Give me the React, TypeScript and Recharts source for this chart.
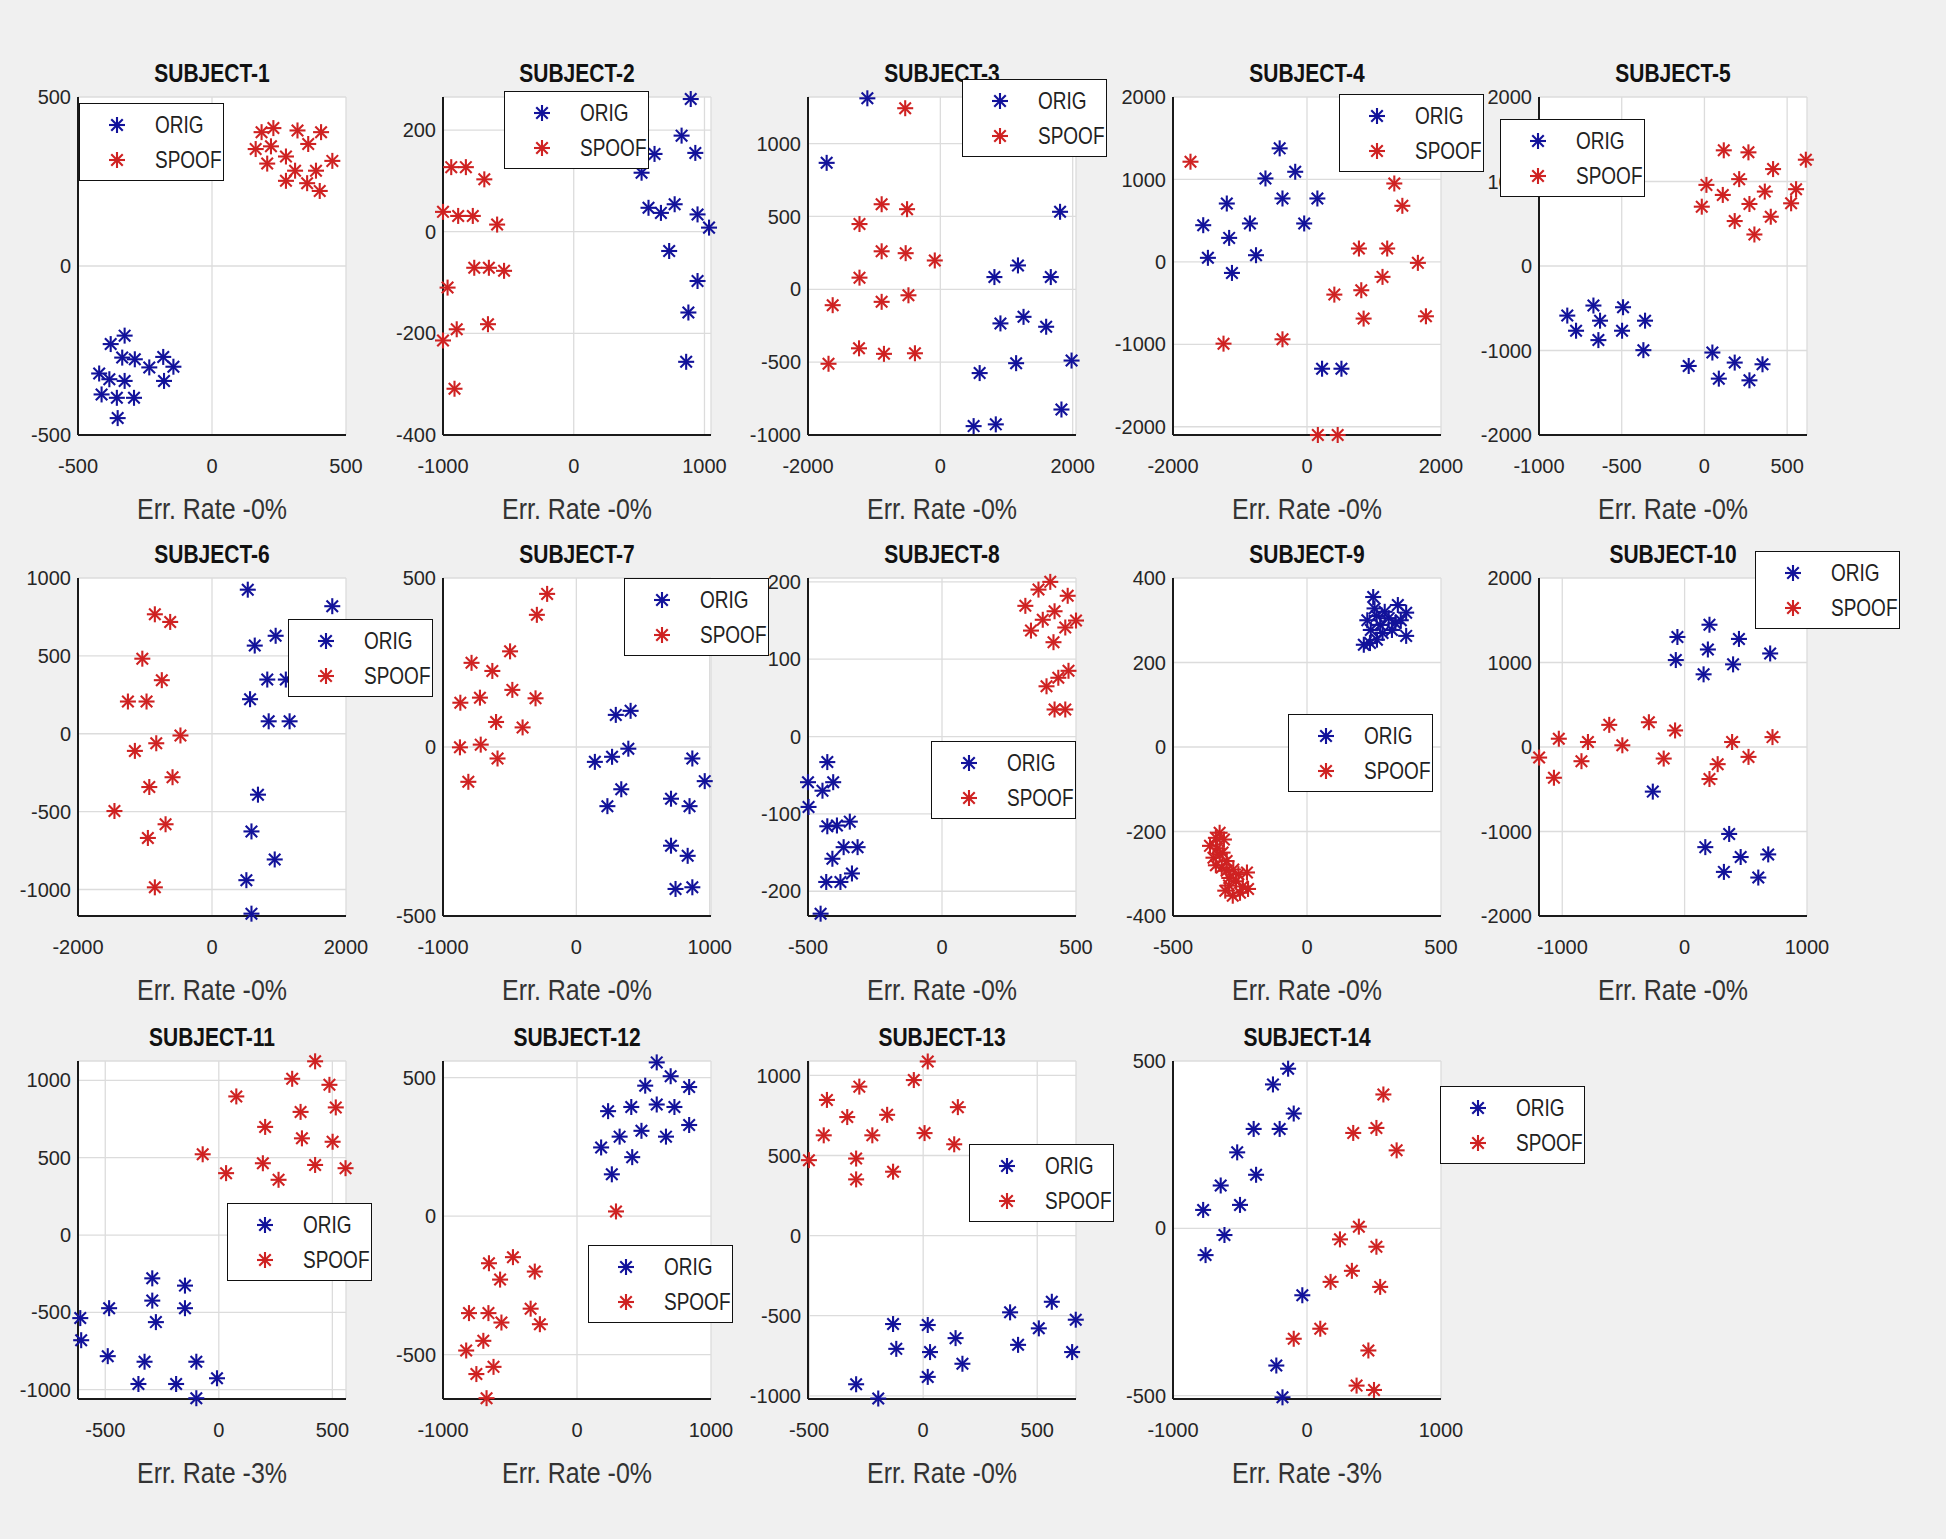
import React from "react";
import { ScatterChart, Scatter, XAxis, YAxis, CartesianGrid } from "recharts";

type Pt = [number, number];

const SUBJECTS = [
  "SUBJECT-1", "SUBJECT-2", "SUBJECT-3", "SUBJECT-4", "SUBJECT-5",
  "SUBJECT-6", "SUBJECT-7", "SUBJECT-8", "SUBJECT-9", "SUBJECT-10",
  "SUBJECT-11", "SUBJECT-12", "SUBJECT-13", "SUBJECT-14",
];
const ERR_RATES = [0, 0, 0, 0, 0, 0, 0, 0, 0, 0, 3, 0, 0, 3];

// ORIG / SPOOF projections
const s1Orig: Pt[] = [[-378,-231],[-326,-206],[-421,-318],[-383,-335],[-335,-271],[-288,-276],[-326,-340],[-234,-300],[-182,-269],[-144,-298],[-179,-340],[-412,-380],[-355,-390],[-291,-390],[-352,-450]];
const s1Spoof: Pt[] = [[185,396],[229,408],[319,401],[407,396],[163,346],[220,354],[276,324],[359,361],[449,311],[206,303],[310,282],[388,282],[276,252],[355,245],[402,222]];
const s2Orig: Pt[] = [[895,261],[825,189],[930,155],[618,153],[519,116],[572,47],[667,37],[772,54],[947,34],[1035,8],[730,-38],[947,-97],[877,-159],[860,-256]];
const s2Spoof: Pt[] = [[-937,127],[-825,127],[-684,103],[-1000,39],[-884,31],[-772,31],[-586,14],[-761,-71],[-649,-71],[-533,-77],[-965,-110],[-656,-182],[-895,-192],[-1000,-214],[-912,-309]];
const s3Orig: Pt[] = [[-1103,1311],[-1718,868],[1809,532],[1173,164],[817,84],[1669,84],[908,-234],[1257,-189],[1599,-257],[1983,-489],[1145,-507],[594,-575],[1830,-825],[503,-939],[838,-927]];
const s3Spoof: Pt[] = [[-531,1243],[-1222,448],[-887,584],[-503,550],[-887,261],[-524,248],[-84,198],[-1222,80],[-1627,-109],[-887,-86],[-482,-41],[-1229,-405],[-852,-443],[-384,-439],[-1690,-511]];
const s4Orig: Pt[] = [[-408,1377],[-176,1093],[-620,1012],[-366,769],[155,769],[-1197,708],[-42,466],[-1549,445],[-852,466],[-1162,291],[-1479,49],[-761,81],[-1120,-134],[225,-1296],[514,-1296]];
const s4Spoof: Pt[] = [[-1739,1215],[1303,951],[1423,680],[775,162],[1197,162],[1655,-12],[1127,-182],[408,-397],[810,-344],[845,-688],[1775,-660],[-1246,-992],[-366,-939],[162,-2100],[458,-2100]];
const s5Orig: Pt[] = [[-829,-587],[-776,-766],[-671,-468],[-631,-647],[-641,-877],[-492,-488],[-498,-766],[-359,-647],[-369,-996],[-95,-1183],[48,-1024],[87,-1333],[183,-1143],[272,-1353],[351,-1163]];
const s5Spoof: Pt[] = [[117,1369],[266,1345],[613,1258],[415,1147],[12,960],[210,1028],[111,841],[365,881],[554,909],[-16,702],[272,734],[524,742],[401,583],[183,532],[302,373]];
const s6Orig: Pt[] = [[534,925],[1795,819],[950,629],[638,566],[825,348],[1102,348],[568,222],[846,80],[1158,80],[686,-391],[589,-627],[936,-807],[513,-940],[589,-1155]];
const s6Spoof: Pt[] = [[-853,767],[-624,718],[-1040,482],[-749,344],[-1255,207],[-977,207],[-471,-11],[-832,-61],[-1151,-110],[-589,-279],[-936,-342],[-1456,-496],[-693,-581],[-957,-669],[-853,-986]];
const s7Orig: Pt[] = [[296,95],[407,107],[390,-5],[139,-44],[268,-29],[337,-125],[233,-175],[870,-34],[963,-101],[710,-153],[849,-175],[710,-292],[835,-322],[744,-420],[870,-415]];
const s7Spoof: Pt[] = [[-219,453],[-296,391],[-497,283],[-786,249],[-630,225],[-480,169],[-870,131],[-723,146],[-306,144],[-602,74],[-403,58],[-873,-1],[-717,7],[-591,-34],[-810,-103]];
const s8Orig: Pt[] = [[-428,-33],[-500,-59],[-406,-59],[-446,-70],[-498,-91],[-428,-116],[-392,-115],[-344,-110],[-367,-143],[-315,-143],[-409,-158],[-432,-188],[-379,-188],[-336,-177],[-453,-229]];
const s8Spoof: Pt[] = [[404,200],[360,190],[469,182],[311,169],[420,162],[376,151],[500,150],[332,137],[460,141],[416,122],[472,85],[434,76],[390,65],[420,35],[460,35]];
const s9Orig: Pt[] = [[247,355],[252,328],[339,336],[370,318],[305,305],[273,289],[238,277],[330,293],[370,263],[235,246],[282,270],[261,254],[212,242],[317,277],[225,300],[290,320],[350,300],[260,310]];
const s9Spoof: Pt[] = [[-326,-203],[-340,-215],[-310,-219],[-362,-234],[-335,-240],[-315,-250],[-349,-262],[-326,-254],[-300,-270],[-340,-280],[-318,-285],[-300,-293],[-275,-290],[-256,-301],[-224,-297],[-290,-310],[-265,-318],[-291,-328],[-240,-330],[-220,-336],[-277,-352],[-250,-345],[-305,-340]];
const s10Orig: Pt[] = [[203,1447],[-59,1302],[444,1279],[190,1154],[-72,1029],[699,1107],[396,978],[155,860],[-260,-528],[364,-1029],[169,-1185],[458,-1302],[683,-1271],[321,-1478],[602,-1545]];
const s10Spoof: Pt[] = [[-1189,-125],[-1068,-364],[-1028,98],[-843,-168],[-790,59],[-616,262],[-509,20],[-292,293],[-78,196],[-171,-137],[270,-203],[203,-379],[388,59],[522,-117],[718,117]];
const s11Orig: Pt[] = [[-610,-537],[-606,-680],[-483,-473],[-489,-783],[-293,-280],[-293,-424],[-277,-563],[-149,-327],[-149,-473],[-327,-819],[-354,-963],[-188,-963],[-99,-819],[-8,-926],[-99,-1055]];
const s11Spoof: Pt[] = [[424,1123],[323,1010],[487,971],[77,896],[515,825],[360,796],[204,699],[366,625],[501,603],[-71,522],[194,464],[424,453],[558,432],[32,400],[263,357]];
const s12Orig: Pt[] = [[595,555],[699,505],[509,471],[837,466],[232,379],[405,394],[595,403],[727,394],[837,329],[318,287],[481,308],[664,287],[180,248],[412,213],[260,151]];
const s12Spoof: Pt[] = [[291,17],[-478,-148],[-657,-170],[-315,-200],[-574,-229],[-806,-350],[-661,-350],[-564,-384],[-346,-334],[-277,-390],[-699,-450],[-827,-485],[-623,-544],[-751,-570],[-675,-657]];
const s13Orig: Pt[] = [[564,-413],[381,-479],[669,-525],[507,-579],[-132,-552],[20,-558],[142,-640],[416,-682],[-118,-707],[30,-727],[653,-727],[172,-800],[20,-882],[-294,-928],[-197,-1017]];
const s13Spoof: Pt[] = [[20,1087],[-41,971],[-280,930],[-422,847],[152,802],[-333,740],[-158,754],[-436,626],[-223,626],[6,640],[136,570],[-501,471],[-294,481],[-132,399],[-294,351]];
const s14Orig: Pt[] = [[-141,477],[-254,430],[-99,343],[-398,297],[-204,297],[-521,227],[-380,160],[-644,128],[-500,70],[-775,55],[-616,-20],[-757,-80],[-35,-200],[-229,-410],[-183,-505]];
const s14Spoof: Pt[] = [[570,400],[345,285],[518,300],[669,233],[387,5],[246,-33],[518,-55],[335,-127],[176,-160],[546,-175],[99,-300],[-99,-330],[458,-365],[370,-470],[500,-483]];

const ORIG = [s1Orig, s2Orig, s3Orig, s4Orig, s5Orig, s6Orig, s7Orig, s8Orig, s9Orig, s10Orig, s11Orig, s12Orig, s13Orig, s14Orig];
const SPOOF = [s1Spoof, s2Spoof, s3Spoof, s4Spoof, s5Spoof, s6Spoof, s7Spoof, s8Spoof, s9Spoof, s10Spoof, s11Spoof, s12Spoof, s13Spoof, s14Spoof];

const X_DOMAINS: Pt[] = [[-500,500],[-1000,1050],[-2000,2050],[-2000,2000],[-1000,620],[-2000,2000],[-1000,1010],[-500,500],[-500,500],[-1190,1000],[-620,560],[-1000,1000],[-505,670],[-1000,1000]];
const Y_DOMAINS: Pt[] = [[-500,500],[-400,265],[-1000,1320],[-2100,2000],[-2000,2000],[-1170,1000],[-500,500],[-232,205],[-400,400],[-2000,2000],[-1060,1125],[-660,560],[-1020,1090],[-510,500]];
const X_TICKS = [[-500,0,500],[-1000,0,1000],[-2000,0,2000],[-2000,0,2000],[-1000,-500,0,500],[-2000,0,2000],[-1000,0,1000],[-500,0,500],[-500,0,500],[-1000,0,1000],[-500,0,500],[-1000,0,1000],[-500,0,500],[-1000,0,1000]];
const Y_TICKS = [[-500,0,500],[-400,-200,0,200],[-1000,-500,0,500,1000],[-2000,-1000,0,1000,2000],[-2000,-1000,0,1000,2000],[-1000,-500,0,500,1000],[-500,0,500],[-200,-100,0,100,200],[-400,-200,0,200,400],[-2000,-1000,0,1000,2000],[-1000,-500,0,500,1000],[-500,0,500],[-1000,-500,0,500,1000],[-500,0,500]];

// layout (page px)
const COL_LEFT = [78, 443, 808, 1173, 1539];
const ROW_TOP = [97, 578, 1061];
const PLOT_W = 268;
const PLOT_H = 338;
const LEGEND_POS: Pt[] = [[79,103],[504,91],[962,79],[1339,94],[1500,119],[288,619],[624,578],[931,741],[1288,714],[1755,551],[227,1203],[588,1245],[969,1144],[1440,1086]];

const BLUE = "#12129a";
const RED = "#cf2222";
const FONT = "'Liberation Sans', Arial, sans-serif";
const ML = 70;
const MT = 12;
const MR = 45;
const XH = 60;

function Asterisk({ cx, cy, color }: { cx?: number; cy?: number; color: string }) {
  if (cx == null || cy == null) return null;
  const r = 8;
  const d = r * 0.72;
  return (
    <g stroke={color} strokeWidth={2.1}>
      <line x1={cx} y1={cy - r} x2={cx} y2={cy + r} />
      <line x1={cx - r} y1={cy} x2={cx + r} y2={cy} />
      <line x1={cx - d} y1={cy - d} x2={cx + d} y2={cy + d} />
      <line x1={cx - d} y1={cy + d} x2={cx + d} y2={cy - d} />
    </g>
  );
}

function LegendBox({ x, y }: { x: number; y: number }) {
  const rows = [
    { label: "ORIG", color: BLUE, cy: 21 },
    { label: "SPOOF", color: RED, cy: 56 },
  ];
  return (
    <div style={{ position: "absolute", left: x, top: y, width: 145, height: 78, background: "#fff", border: "1.5px solid #111", boxSizing: "border-box" }}>
      {rows.map((r) => (
        <div key={r.label}>
          <svg width={22} height={22} style={{ position: "absolute", left: 26, top: r.cy - 11 }}>
            <Asterisk cx={11} cy={11} color={r.color} />
          </svg>
          <div style={{ position: "absolute", left: 75, top: r.cy, transform: "translateY(-50%) scaleY(1.25)", fontFamily: FONT, fontSize: 19, color: "#222", lineHeight: 1 }}>
            {r.label}
          </div>
        </div>
      ))}
    </div>
  );
}

function Panel({ i }: { i: number }) {
  const left = COL_LEFT[i % 5];
  const top = ROW_TOP[Math.floor(i / 5)];
  const orig = ORIG[i].map(([x, y]) => ({ x, y }));
  const spoof = SPOOF[i].map(([x, y]) => ({ x, y }));
  const tickStyle = { fontSize: 20, fill: "#262626", fontFamily: FONT };
  return (
    <>
      <div style={{ position: "absolute", left: left - ML, top: top - MT }}>
        <ScatterChart width={PLOT_W + ML + MR} height={PLOT_H + MT + XH} margin={{ top: MT, right: MR, bottom: 0, left: 0 }}>
          <CartesianGrid stroke="#dcdcdc" strokeWidth={1.3} fill="#fff" />
          <XAxis type="number" dataKey="x" domain={X_DOMAINS[i]} ticks={X_TICKS[i]} interval={0} height={XH}
            axisLine={{ stroke: "#1a1a1a", strokeWidth: 2 }} tickLine={false} tickSize={6} tickMargin={18} tick={tickStyle} />
          <YAxis type="number" dataKey="y" domain={Y_DOMAINS[i]} ticks={Y_TICKS[i]} interval={0} width={ML}
            axisLine={{ stroke: "#1a1a1a", strokeWidth: 2 }} tickLine={false} tickSize={3} tickMargin={4} tick={tickStyle} />
          <Scatter data={orig} isAnimationActive={false} shape={(p: any) => <Asterisk cx={p.cx} cy={p.cy} color={BLUE} />} />
          <Scatter data={spoof} isAnimationActive={false} shape={(p: any) => <Asterisk cx={p.cx} cy={p.cy} color={RED} />} />
        </ScatterChart>
      </div>
      <div style={{ position: "absolute", left, width: PLOT_W, top: top - 24, transform: "translateY(-50%) scaleY(1.2)", textAlign: "center", fontFamily: FONT, fontWeight: "bold", fontSize: 21, color: "#111", lineHeight: 1 }}>
        {SUBJECTS[i]}
      </div>
      <div style={{ position: "absolute", left, width: PLOT_W, top: top + PLOT_H + 74, transform: "translateY(-50%) scaleY(1.15)", textAlign: "center", fontFamily: FONT, fontSize: 25, color: "#333", lineHeight: 1 }}>
        {`Err. Rate -${ERR_RATES[i]}%`}
      </div>
      <LegendBox x={LEGEND_POS[i][0]} y={LEGEND_POS[i][1]} />
    </>
  );
}

export default function App() {
  return (
    <div style={{ position: "absolute", left: 0, top: 0, width: 1946, height: 1539, background: "#f0f0f0", overflow: "hidden" }}>
      {SUBJECTS.map((_, i) => (
        <Panel key={i} i={i} />
      ))}
    </div>
  );
}
